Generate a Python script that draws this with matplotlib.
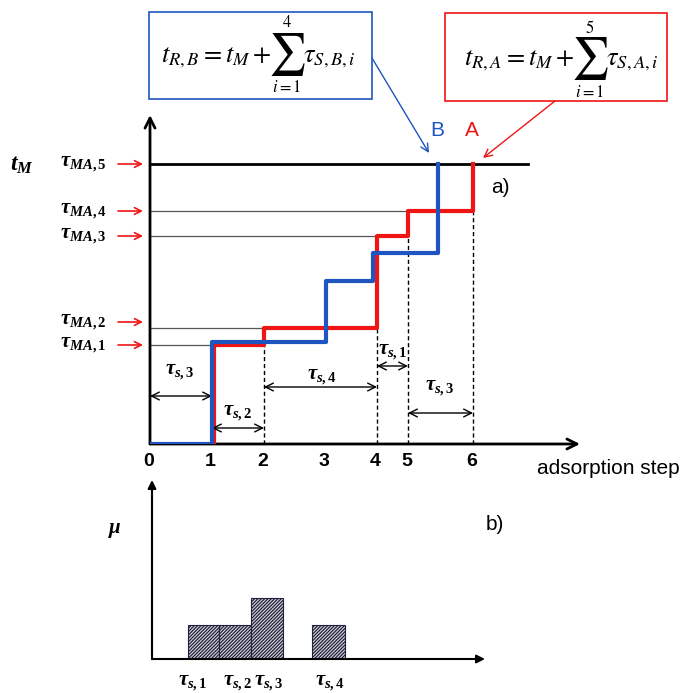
import matplotlib
matplotlib.use('Agg')
import matplotlib.pyplot as plt
from matplotlib.patches import Rectangle

plt.rcParams['mathtext.fontset'] = 'custom'
plt.rcParams['mathtext.it'] = 'Liberation Serif:italic:bold'
plt.rcParams['mathtext.rm'] = 'Liberation Serif:bold'
plt.rcParams['mathtext.bf'] = 'Liberation Serif:bold'
plt.rcParams['hatch.linewidth'] = 0.9

W, H = 682, 693

# adsorption steps (x positions in time units) and their labels
step_pos = [0, 6.2, 11.4, 17.5, 22.7, 25.8, 32.3]
step_labels = ['0', '1', '2', '3', '4', '5', '6']

# staircase of compound A (red) and B (blue)
red_x = [6.35, 6.35, 11.4, 22.7, 25.8, 32.3]
red_y = [0, 9.9, 11.6, 20.8, 23.3, 28.0]
blue_x = [0, 6.2, 17.6, 22.3, 28.8]
blue_y = [0, 10.2, 16.3, 19.1, 28.0]

# tau_M levels on the time axis
levels = [9.9, 11.6, 20.8, 23.3, 28.0]
level_ends = [6.35, 11.4, 22.7, 25.8, 37.8]
level_labels = [r'$\tau_{MA,1}$', r'$\tau_{MA,2}$', r'$\tau_{MA,3}$',
                r'$\tau_{MA,4}$', r'$\tau_{MA,5}$']
arrow_levels = [9.9, 12.2, 20.8, 23.3, 28.0]

# dashed guides below the risers of A
dash_x = [11.4, 22.7, 25.8, 32.3]
dash_top = [9.9, 11.6, 20.8, 23.3]

# double arrows: start, end, height, label, label x, label y
spans = [
    (0, 6.2, 4.8, r'$\tau_{s,3}$', 3.0, 7.2),
    (6.2, 11.4, 1.6, r'$\tau_{s,2}$', 8.8, 3.1),
    (11.4, 22.7, 5.7, r'$\tau_{s,4}$', 17.2, 6.7),
    (22.7, 25.8, 7.8, r'$\tau_{s,1}$', 24.3, 9.2),
    (25.8, 32.3, 3.1, r'$\tau_{s,3}$', 29.0, 5.6),
]

# histogram in panel b)
bar_left = [3.6, 6.7, 9.9, 16.0]
bar_width = [3.1, 3.2, 3.2, 3.3]
bar_height = [3.4, 3.4, 6.1, 3.4]
bar_label_x = [4.1, 8.6, 11.7, 17.8]
bar_labels = [r'$\tau_{s,1}$', r'$\tau_{s,2}$', r'$\tau_{s,3}$', r'$\tau_{s,4}$']

RED = '#f01515'
BLUE = '#1f55c0'

fig = plt.figure(figsize=(W / 100, H / 100), dpi=100)

def fx(px):
    return px / W

def fy(py):
    return 1 - py / H

# ---- panel a)
ax = fig.add_axes([fx(150), fy(444), 430 / W, 329 / H])
ax.set_xlim(0, 43)
ax.set_ylim(0, 32.9)
ax.axis('off')

ax.annotate('', xy=(0, 32.9), xytext=(0, 0),
            arrowprops=dict(arrowstyle='->', lw=2, color='black', mutation_scale=18,
                            shrinkA=0, shrinkB=0), annotation_clip=False)
ax.annotate('', xy=(43, 0), xytext=(0, 0),
            arrowprops=dict(arrowstyle='->', lw=2, color='black', mutation_scale=18,
                            shrinkA=0, shrinkB=0), annotation_clip=False)

for lev, end in zip(levels[:-1], level_ends[:-1]):
    ax.plot([0, end], [lev, lev], color='#555555', lw=0.9, zorder=1)
ax.plot([0, level_ends[-1]], [levels[-1], levels[-1]], color='black', lw=2, zorder=1)

for x, top in zip(dash_x, dash_top):
    ax.plot([x, x], [0, top], color='black', lw=1, ls=(0, (3, 2)), zorder=1)

ax.plot(red_x, red_y, drawstyle='steps-post', color=RED, lw=3, zorder=3)
ax.plot(blue_x, blue_y, drawstyle='steps-post', color=BLUE, lw=3, zorder=4)

for x0, x1, y, lab, lx, ly in spans:
    ax.annotate('', xy=(x1, y), xytext=(x0, y),
                arrowprops=dict(arrowstyle='<->', lw=1, color='black', mutation_scale=14,
                                shrinkA=0, shrinkB=0))
    ax.text(lx, ly, lab, fontsize=15, ha='center', va='center')

for lev, ay, lab in zip(levels, arrow_levels, level_labels):
    ax.annotate('', xy=(-0.7, ay), xytext=(-3.2, ay),
                arrowprops=dict(arrowstyle='->', lw=1.2, color=RED, mutation_scale=12,
                                shrinkA=0, shrinkB=0), annotation_clip=False)
    ax.text(-4.3, ay, lab, fontsize=15, ha='right', va='center')
ax.text(-12.8, 28.0, r'$t_M$', fontsize=17, ha='center', va='center')

for pos, lab in zip(step_pos, step_labels):
    ax.text(pos - 0.15, -1.8, lab, fontsize=14, fontweight='bold', family='Liberation Sans',
            ha='center', va='center')
fig.text(fx(680), fy(468), 'adsorption step', fontsize=15, family='Liberation Sans',
         ha='right', va='center')

ax.text(35.0, 25.6, 'a)', fontsize=15, family='Liberation Sans', ha='center', va='center')
ax.text(28.7, 31.3, 'B', fontsize=15, family='Liberation Sans', color=BLUE,
        ha='center', va='center')
ax.text(32.2, 31.3, 'A', fontsize=15, family='Liberation Sans', color=RED,
        ha='center', va='center')

# ---- formula boxes
def formula_box(x0, y0, x1, y1, color, sub, top, base, sig_x, sig_y, left_text, right_text):
    fig.add_artist(Rectangle((fx(x0), fy(y1)), (x1 - x0) / W, (y1 - y0) / H,
                             transform=fig.transFigure, fill=False, ec=color, lw=1.2))
    fig.text(fx(sig_x - 15), fy(base), left_text, fontsize=19, math_fontfamily='stix',
             ha='right', va='baseline')
    fig.text(fx(sig_x), fy(sig_y), r'$\sum$', fontsize=30, math_fontfamily='stix',
             ha='center', va='center')
    fig.text(fx(sig_x), fy(top), sub[0], fontsize=12, math_fontfamily='stix',
             ha='center', va='center')
    fig.text(fx(sig_x), fy(sig_y + 33), sub[1], fontsize=12, math_fontfamily='stix',
             ha='center', va='center')
    fig.text(fx(sig_x + 16), fy(base), right_text, fontsize=19, math_fontfamily='stix',
             ha='left', va='baseline')

formula_box(149, 12, 372, 99, BLUE, ('$4$', '$i=1$'), 22, 62, 287, 54,
            r'$t_{R,B} = t_M + $', r'$\tau_{S,B,i}$')
formula_box(445, 13, 667, 101, RED, ('$5$', '$i=1$'), 28, 65, 590, 59,
            r'$t_{R,A} = t_M + $', r'$\tau_{S,A,i}$')

ax.annotate('', xy=(27.9, 29.1), xytext=(fx(372), fy(58)), textcoords='figure fraction',
            arrowprops=dict(arrowstyle='->', lw=1, color=BLUE, mutation_scale=14,
                            shrinkA=0, shrinkB=0), annotation_clip=False)
ax.annotate('', xy=(33.3, 28.6), xytext=(fx(555), fy(101)), textcoords='figure fraction',
            arrowprops=dict(arrowstyle='->', lw=1, color=RED, mutation_scale=14,
                            shrinkA=0, shrinkB=0), annotation_clip=False)

# ---- panel b)
bx = fig.add_axes([fx(152), fy(659), (485 - 152) / W, (659 - 480) / H])
bx.set_xlim(0, 33.3)
bx.set_ylim(0, 17.9)
bx.axis('off')
bx.bar(bar_left, bar_height, width=bar_width, align='edge', color='#d8d8d8',
       edgecolor='#202040', hatch='/' * 10, lw=0.8)
bx.annotate('', xy=(0, 17.9), xytext=(0, 0),
            arrowprops=dict(arrowstyle='-|>', lw=1.5, color='black', mutation_scale=12,
                            shrinkA=0, shrinkB=0), annotation_clip=False)
bx.annotate('', xy=(33.3, 0), xytext=(0, 0),
            arrowprops=dict(arrowstyle='-|>', lw=1.5, color='black', mutation_scale=12,
                            shrinkA=0, shrinkB=0), annotation_clip=False)
for x, lab in zip(bar_label_x, bar_labels):
    bx.text(x, -2.4, lab, fontsize=15, ha='center', va='center', clip_on=False)
bx.text(-3.7, 12.9, r'$\mu$', fontsize=15, ha='center', va='center', clip_on=False)
bx.text(34.3, 13.4, 'b)', fontsize=15, family='Liberation Sans', ha='center',
        va='center', clip_on=False)

fig.savefig('out.png', dpi=100)
